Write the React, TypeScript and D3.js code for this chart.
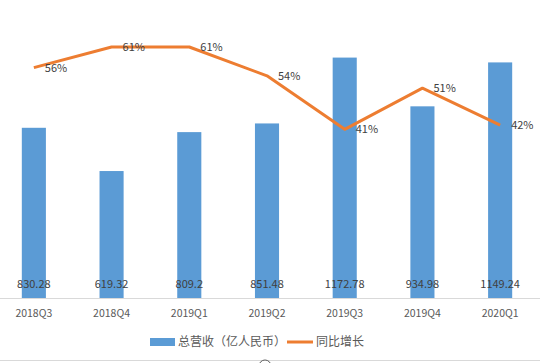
import * as d3 from 'd3'

const quarters = ['2018Q3', '2018Q4', '2019Q1', '2019Q2', '2019Q3', '2019Q4', '2020Q1']
const revenue = [830.28, 619.32, 809.2, 851.48, 1172.78, 934.98, 1149.24]
const revenueLabels = ['830.28', '619.32', '809.2', '851.48', '1172.78', '934.98', '1149.24']
const growth = [56, 61, 61, 54, 41, 51, 42]

const W = 540
const H = 363
const barColor = '#5b9bd5'
const lineColor = '#ed7d31'
const font = '"Microsoft YaHei", "Noto Sans CJK SC", "DejaVu Sans", sans-serif'

export default function App() {
  const x = d3.scaleBand<string>()
    .domain(quarters)
    .range([-5, 539])
    .paddingInner(0.69)
    .paddingOuter(0.345)

  const yBar = d3.scaleLinear().domain([0, 1400]).range([298, 11])
  const yPct = d3.scaleLinear().domain([0, 70]).range([298, 10])

  const cx = (q: string) => (x(q) as number) + x.bandwidth() / 2

  const line = d3.line<number>()
    .x((_, i) => cx(quarters[i]))
    .y(d => yPct(d))

  return (
    <div style={{ position: 'absolute', left: 0, top: 0 }}>
      <svg width={W} height={H} style={{ display: 'block', fontFamily: font }}>
        <rect width={W} height={H} fill="#fff" />
        {quarters.map((q, i) => (
          <rect key={q} x={x(q)} y={yBar(revenue[i])} width={x.bandwidth()}
            height={yBar(0) - yBar(revenue[i])} fill={barColor} />
        ))}
        <line x1={0} x2={W} y1={298.5} y2={298.5} stroke="#d9d9d9" strokeWidth={1} />
        {quarters.map((q, i) => (
          <text key={'v' + q} x={cx(q)} y={288} textAnchor="middle" fontSize={11} fill="#404040">
            {revenueLabels[i]}
          </text>
        ))}
        {quarters.map(q => (
          <text key={'x' + q} x={cx(q)} y={317} textAnchor="middle" fontSize={10.5} fill="#595959">
            {q}
          </text>
        ))}
        <path d={line(growth) as string} fill="none" stroke={lineColor} strokeWidth={3} strokeLinejoin="round" />
        {quarters.map((q, i) => (
          <text key={'p' + q} x={cx(q) + 11} y={yPct(growth[i]) + 4} fontSize={11} fill="#404040">
            {growth[i]}%
          </text>
        ))}
        <rect x={150} y={338} width={25} height={8} fill={barColor} />
        <text x={178} y={346} fontSize={12} fill="#595959">总营收（亿人民币）</text>
        <line x1={287} x2={313} y1={342} y2={342} stroke={lineColor} strokeWidth={3} />
        <text x={316} y={346} fontSize={12} fill="#595959">同比增长</text>
        <line x1={0} x2={W} y1={360.5} y2={360.5} stroke="#d9d9d9" strokeWidth={1} />
        <circle cx={265} cy={366} r={6} fill="#fff" stroke="#595959" strokeWidth={1} />
      </svg>
    </div>
  )
}
